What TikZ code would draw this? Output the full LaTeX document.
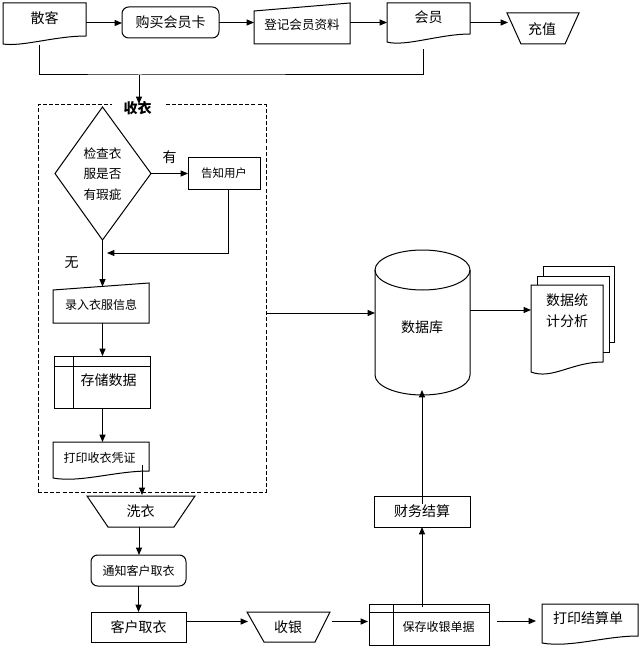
\documentclass[tikz,border=0pt]{standalone}
\usepackage{fontspec}
\setmainfont{Noto Sans CJK SC}
\usetikzlibrary{arrows.meta}
\begin{document}
\begin{tikzpicture}[x=0.75pt,y=-0.75pt,
  ln/.style={line width=0.75pt},
  arr/.style={ln,-{Triangle[length=5.5pt,width=4.5pt]}},
  big/.style={font=\fontsize{10.5}{13}\selectfont,inner sep=0pt},
  small/.style={font=\fontsize{9}{11}\selectfont,inner sep=0pt},
  box/.style={draw,ln,inner sep=0pt,outer sep=0pt},
]
\useasboundingbox (0,0) rectangle (642,649);
\fill[white] (0,0) rectangle (642,649);

% ---------- top row ----------
% 散客 (document)
\draw[ln] (3,3) -- (86,3) -- (86,36) .. controls (55,36) and (22,47) .. (3,44) -- cycle;
\node[big] (sk) at (44.5,18.5) {散客};
\coordinate (skE) at (86,23);
\coordinate (skB) at (39,45);

% 购买会员卡
\node[box,rounded corners=5pt,minimum width=72.75pt,minimum height=23.25pt,big] (gm) at (170.5,22.5) {购买会员卡};

% 登记会员资料 (manual input)
\draw[ln] (254,11) -- (350,3) -- (350,44) -- (254,44) -- cycle;
\node[font=\fontsize{9.4}{11}\selectfont,inner sep=0pt] (dj) at (302,24.5) {登记会员资料};
\coordinate (djW) at (254,22.5);
\coordinate (djE) at (350,22.5);

% 会员 (document)
\draw[ln] (387,3) -- (470,3) -- (470,34) .. controls (440,34) and (405,47) .. (387,42) -- cycle;
\node[big] (hy) at (428.5,17.5) {会员};
\coordinate (hyW) at (387,22.5);
\coordinate (hyE) at (470,22.5);
\coordinate (hyB) at (423,49);

% 充值 (manual operation)
\draw[ln] (507,13) -- (579,13) -- (565,44) -- (521,44) -- cycle;
\node[big] (cz) at (542,29) {充值};
\coordinate (czW) at (508,22.5);

\draw[arr] (skE) -- (skE -| gm.west);
\draw[arr] (gm.east |- djW) -- (djW);
\draw[arr] (djE) -- (hyW);
\draw[arr] (hyE) -- (czW);

% join line
\coordinate (jn) at (139,75);
\draw[ln] (skB) |- (jn) -| (hyB);

% ---------- 收衣 dashed group ----------
\node[draw,ln,dash pattern=on 3pt off 1.6pt,minimum width=171pt,minimum height=290.25pt,inner sep=0pt,outer sep=0pt] (grp) at (152,298.5) {};
\node[font=\fontsize{10.5}{13}\selectfont\bfseries,fill=white,inner xsep=9pt,inner ysep=0pt] (grpl) at (137.5,108.5) {收衣};
\coordinate (grpT) at (139,104);
\draw[arr] (jn) -- (grpT);

% diamond
\coordinate (chkT) at (102.5,107);
\coordinate (chkR) at (151,173.5);
\coordinate (chkB) at (102.5,240);
\coordinate (chkL) at (55,173.5);
\draw[ln] (chkT) -- (chkR) -- (chkB) -- (chkL) -- cycle;
\node[font=\fontsize{9.5}{15.4}\selectfont,align=center,inner sep=0pt] (chk) at (102.5,174) {检查衣\\服是否\\有瑕疵};

% 告知用户
\node[box,minimum width=54pt,minimum height=23.25pt,font=\fontsize{8.6}{11}\selectfont] (gz) at (224,173.5) {告知用户};
\draw[arr] (chkR) -- (chkR -| gz.west);
\node[big] (lyes) at (169.5,157) {有};
\coordinate (mrg) at (107,253);
\draw[arr] ([xshift=3pt]gz.south) |- (mrg);

% 录入衣服信息 (manual input)
\draw[ln] (53,290) -- (149,283) -- (149,323) -- (53,323) -- cycle;
\node[small] (lr) at (101,304.5) {录入衣服信息};
\coordinate (lrT) at (102.5,286.5);
\coordinate (lrB) at (102.5,323);
\draw[arr] (chkB) -- (lrT);
\node[big] (lno) at (71.5,263) {无};

% 存储数据 (internal storage)
\draw[ln] (54,356) rectangle (150,408);
\draw[ln] (54,366) -- (150,366);
\draw[ln] (73,356) -- (73,408);
\node[big] (cc) at (108.5,380) {存储数据};
\coordinate (ccT) at (102.5,356);
\coordinate (ccB) at (102.5,408);
\draw[arr] (lrB) -- (ccT);

% 打印收衣凭证 (document)
\draw[ln] (53,442) -- (149,442) -- (149,471) .. controls (115,471) and (80,483) .. (53,478) -- cycle;
\node[small] (pz) at (99.5,457.5) {打印收衣凭证};
\coordinate (pzT) at (102.5,442);
\coordinate (pzO) at (142,465);
\draw[arr] (ccB) -- (pzT);

% ---------- lower left ----------
% 洗衣 (manual operation)
\draw[ln] (87,496) -- (195,496) -- (174,527) -- (108,527) -- cycle;
\node[big] (xy) at (140.5,511) {洗衣};
\coordinate (xyT) at (142,495);
\coordinate (xyB) at (139,527);
\draw[arr] (pzO) -- (xyT);

\node[box,rounded corners=5pt,minimum width=71.25pt,minimum height=23.25pt,small] (tz) at (138.5,570.5) {通知客户取衣};
\draw[arr] (xyB) -- (xyB |- tz.north);

\node[box,minimum width=71.25pt,minimum height=22.5pt,big] (kh) at (138.5,627) {客户取衣};
\draw[arr] (tz.south) -- (kh.north);

% 收银 (manual operation)
\draw[ln] (247,612) -- (330,612) -- (315,642) -- (264,642) -- cycle;
\node[big] (cy) at (288,627.5) {收银};
\coordinate (cyW) at (248,621.5);
\coordinate (cyE) at (332,621.5);
\draw[arr] (kh.east |- cyW) -- (cyW);

% 保存收银单据 (internal storage)
\draw[ln] (369,604) rectangle (489,645);
\draw[ln] (369,612) -- (489,612);
\draw[ln] (393,604) -- (393,645);
\node[small] (bc) at (438.5,626.5) {保存收银单据};
\coordinate (bcW) at (368,621.5);
\coordinate (bcO) at (497,621);
\coordinate (bcU) at (422,607);
\draw[arr] (cyE) -- (bcW);

% 打印结算单 (document)
\draw[ln] (542,604) -- (638,604) -- (638,636) .. controls (605,636) and (570,648) .. (542,643) -- cycle;
\node[big] (js) at (588,618) {打印结算单};
\coordinate (jsW) at (536,621);
\draw[arr] (bcO) -- (jsW);

% 财务结算
\node[box,minimum width=72pt,minimum height=23.25pt,big] (cw) at (422,511.5) {财务结算};
\draw[arr] (bcU) -- (bcU |- cw.south);

% 数据库 (cylinder)
\draw[ln] (422.5,270) ellipse [x radius=35.625pt, y radius=15pt];
\draw[ln] (375,270) -- (375,375) arc[start angle=180, end angle=360, x radius=35.625pt, y radius=15pt] -- (470,270);
\node[big] (db) at (422,327) {数据库};
\coordinate (dbW) at (375,313);
\coordinate (dbE) at (470,310);
\coordinate (dbB) at (422,390);
\draw[arr] ([yshift=5.6pt]cw.center) -- (dbB);
\draw[arr] (grp.east |- dbW) -- (dbW);

% 数据统计分析 (multi document)
\draw[ln] (543,276) -- (543,266) -- (614,266) -- (614,342) -- (609,342);
\draw[ln] (537,285) -- (537,276) -- (609,276) -- (609,352) -- (603,352);
\draw[ln] (531,285) -- (603,285) -- (603,362) .. controls (572,362) and (552,380) .. (531,372) -- cycle;
\node[font=\fontsize{10.5}{15.75}\selectfont,align=center,inner sep=0pt] (tj) at (567,310.5) {数据统\\计分析};
\coordinate (tjW) at (531,310);
\draw[arr] (dbE) -- (tjW);
\end{tikzpicture}
\end{document}
